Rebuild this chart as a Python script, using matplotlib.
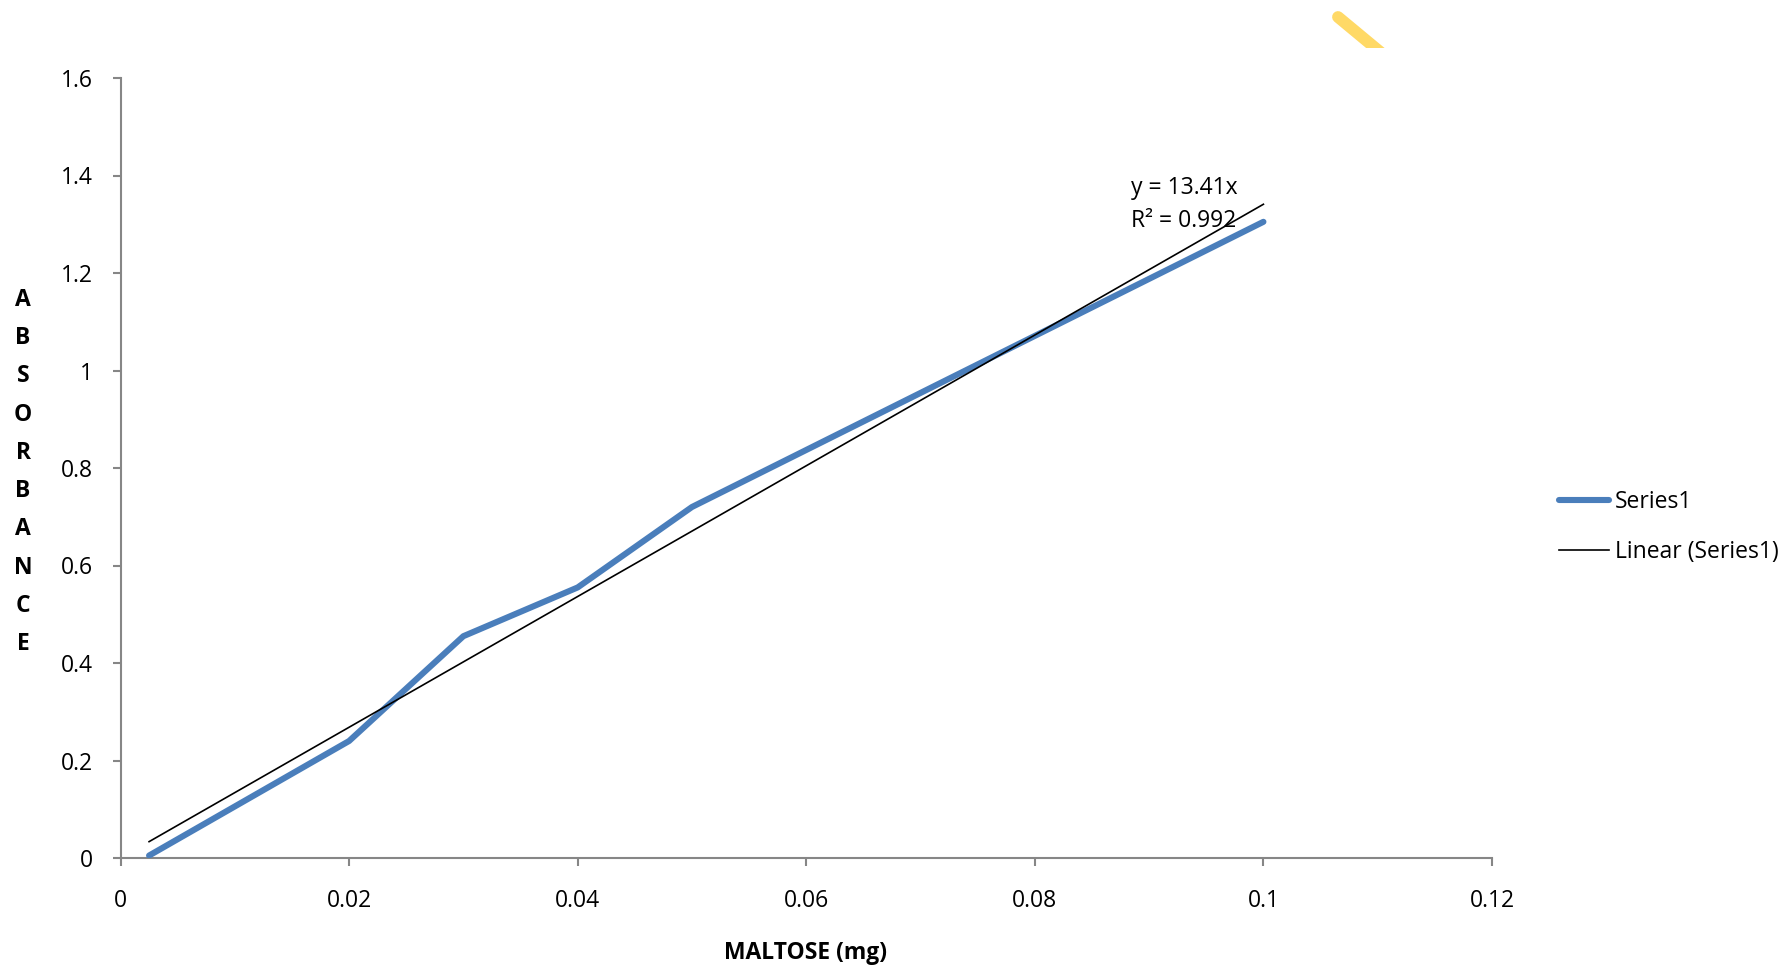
import matplotlib
matplotlib.use("Agg")
import matplotlib.pyplot as plt
from matplotlib.lines import Line2D
from matplotlib.patches import Rectangle
import numpy as np

# Data
maltose = [0.0025, 0.02, 0.03, 0.04, 0.05, 0.1]
absorbance = [0.005, 0.24, 0.455, 0.555, 0.72, 1.305]
slope = 13.41
r2 = 0.992
xticks = [0, 0.02, 0.04, 0.06, 0.08, 0.1, 0.12]
xticklabels = ["0", "0.02", "0.04", "0.06", "0.08", "0.1", "0.12"]
yticks = [0, 0.2, 0.4, 0.6, 0.8, 1.0, 1.2, 1.4, 1.6]
yticklabels = ["0", "0.2", "0.4", "0.6", "0.8", "1", "1.2", "1.4", "1.6"]

plt.rcParams['font.family'] = ['Open Sans', 'DejaVu Sans']
FS = 16.5

W, H = 1787, 969
fig = plt.figure(figsize=(W / 100, H / 100), dpi=100)
ax = fig.add_axes([120.5 / W, 1 - 858 / H, (1492 - 120.5) / W, (858 - 78) / H])

blue = "#4A7EBB"
ax.plot(maltose, absorbance, color=blue, lw=4.4, solid_capstyle='round',
        solid_joinstyle='round', label="Series1", zorder=3)
xt = np.array([maltose[0], maltose[-1]])
ax.plot(xt, slope * xt, color="black", lw=1.2, label="Linear (Series1)", zorder=4)

ax.set_xlim(0, 0.12)
ax.set_ylim(0, 1.6)
ax.set_xticks(xticks)
ax.set_xticklabels(xticklabels)
ax.set_yticks(yticks)
ax.set_yticklabels(yticklabels)

for s in ["top", "right"]:
    ax.spines[s].set_visible(False)
for s in ["left", "bottom"]:
    ax.spines[s].set_color("#868686")
    ax.spines[s].set_linewidth(1.5)
ax.tick_params(axis='both', direction='out', length=6, width=1.5, color="#868686",
               labelsize=FS, labelcolor="black")
ax.tick_params(axis='x', pad=16)
ax.tick_params(axis='y', pad=14)

# equation text
fig.text(1131 / W, 1 - 188 / H, "y = 13.41x", fontsize=FS, va='center', ha='left')
fig.text(1131 / W, 1 - 221 / H, "R² = 0.992", fontsize=FS, va='center', ha='left')

# axis labels
fig.text(806 / W, 1 - 953 / H, "MALTOSE (mg)", fontsize=FS, fontweight='bold',
         ha='center', va='center')
letters = list("ABSORBANCE")
fig.text(23 / W, 1 - 472 / H, "\n".join(letters), fontsize=FS, fontweight='bold',
         ha='center', va='center', linespacing=1.79, multialignment='center')

# legend
handles, labels = ax.get_legend_handles_labels()
leg = fig.legend(handles, labels, loc='center left',
                 bbox_to_anchor=(1559 / W, 1 - 527 / H), frameon=False,
                 fontsize=FS, handlelength=2.2, handletextpad=0.25,
                 labelspacing=1.1, borderaxespad=0, borderpad=0)

# decorative yellow stroke, clipped at the bottom
ln = Line2D([1338 / W, 1385 / W], [1 - 17 / H, 1 - 56 / H], transform=fig.transFigure,
            color="#FFD966", lw=8.5, solid_capstyle='round')
fig.add_artist(ln)
clip = Rectangle((0, 1 - 48 / H), 1, 48 / H, transform=fig.transFigure)
ln.set_clip_path(clip)

fig.savefig("out.png", dpi=100)
